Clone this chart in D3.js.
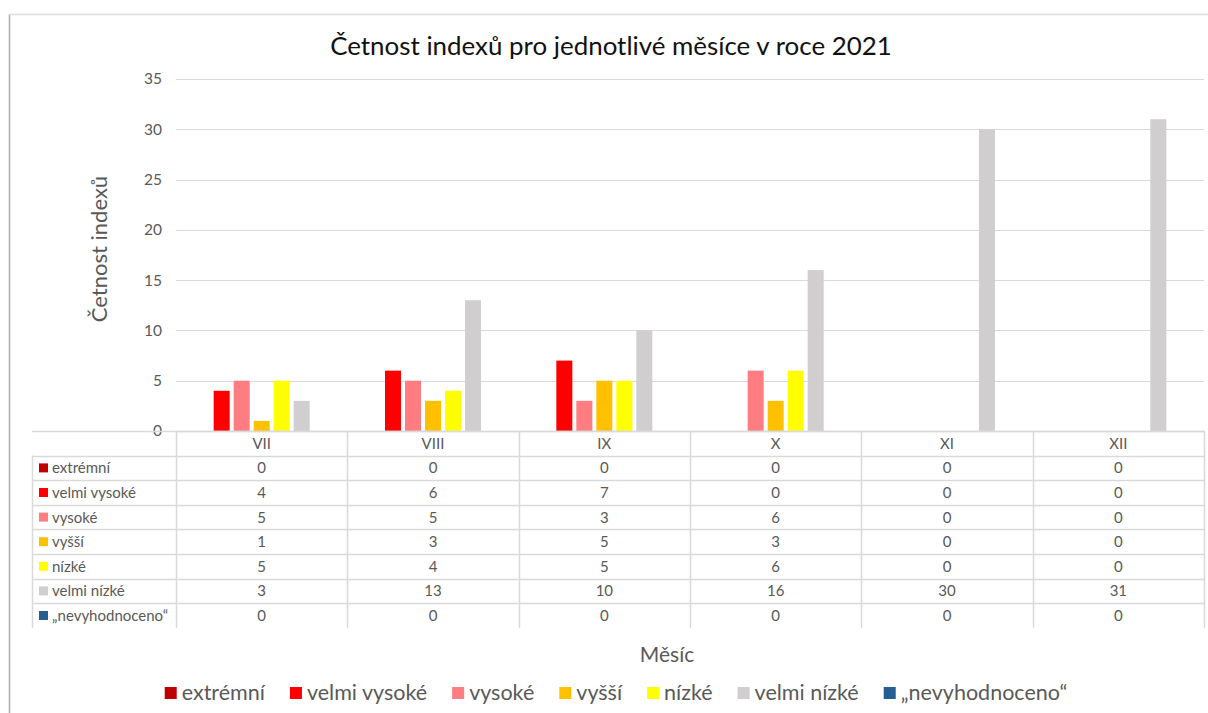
<!DOCTYPE html>
<html>
<head>
<meta charset="utf-8">
<script src="https://cdn.jsdelivr.net/npm/d3@7"></script>
<style>
  html, body { margin: 0; padding: 0; background: #fff; }
  svg { display: block; font-family: Lato, "Open Sans", sans-serif; }
</style>
</head>
<body>
<svg id="chart" width="1208" height="713"></svg>
<script>
// Months (Roman numerals) and index categories
const months = ["VII", "VIII", "IX", "X", "XI", "XII"];
const seriesNames = ["extrémní", "velmi vysoké", "vysoké", "vyšší", "nízké", "velmi nízké", "„nevyhodnoceno“"];
const seriesColors = ["#C00000", "#FF0000", "#FF7C80", "#FFC000", "#FFFF00", "#D0CECE", "#255E91"];

// Counts per category and month
const extremni      = [0, 0, 0, 0, 0, 0];
const velmiVysoke   = [4, 6, 7, 0, 0, 0];
const vysoke        = [5, 5, 3, 6, 0, 0];
const vyssi         = [1, 3, 5, 3, 0, 0];
const nizke         = [5, 4, 5, 6, 0, 0];
const velmiNizke    = [3, 13, 10, 16, 30, 31];
const nevyhodnoceno = [0, 0, 0, 0, 0, 0];

const yTicks = [0, 5, 10, 15, 20, 25, 30, 35];

const titleText = "Četnost indexů pro jednotlivé měsíce v roce 2021";
const yTitle = "Četnost indexů";
const xTitle = "Měsíc";

const seriesValues = [extremni, velmiVysoke, vysoke, vyssi, nizke, velmiNizke, nevyhodnoceno];
const series = seriesNames.map((name, i) => ({ name, color: seriesColors[i], values: seriesValues[i] }));

const svg = d3.select("#chart");
const textColor = "#595959";
const gridColor = "#D9D9D9";

// Chart frame
svg.append("line").attr("x1", 9.5).attr("x2", 9.5).attr("y1", 14).attr("y2", 713)
  .attr("stroke", "#ABABAB").attr("stroke-width", 1.5);
svg.append("line").attr("x1", 9).attr("x2", 1208).attr("y1", 14.5).attr("y2", 14.5)
  .attr("stroke", "#DCDCDC").attr("stroke-width", 1.5);

// Plot area
const plot = { left: 176, right: 1204, top: 79, bottom: 431 };

const x = d3.scaleBand().domain(months).range([plot.left, plot.right]).padding(0);
const y = d3.scaleLinear().domain([0, 35]).range([plot.bottom, plot.top]);
const xInner = d3.scaleBand().domain(seriesNames).range([0, x.bandwidth()])
  .paddingInner(0.2).paddingOuter(0.883);

// Title, fitted to its width
const title = svg.append("text")
  .attr("x", 611).attr("y", 55)
  .attr("text-anchor", "middle")
  .attr("fill", "#111")
  .style("font-size", "24px")
  .text(titleText);
(function fit(sel, target) {
  const w = sel.node().getComputedTextLength();
  const fs = parseFloat(sel.style("font-size"));
  sel.style("font-size", (fs * target / w).toFixed(2) + "px");
})(title, 562);

// Gridlines
svg.append("g").selectAll("line").data(yTicks.filter(t => t > 0)).join("line")
  .attr("x1", plot.left).attr("x2", plot.right)
  .attr("y1", d => Math.round(y(d)) + 0.5).attr("y2", d => Math.round(y(d)) + 0.5)
  .attr("stroke", gridColor).attr("stroke-width", 1.2);

// Y axis labels
const yAxis = svg.append("g")
  .attr("transform", `translate(${plot.left - 4},0)`)
  .call(d3.axisLeft(y).tickValues(yTicks).tickSize(0).tickPadding(10));
yAxis.select(".domain").remove();
yAxis.selectAll("text").attr("fill", textColor).style("font-size", "15.5px")
  .style("font-family", "Lato, 'Open Sans', sans-serif");

// Y title
svg.append("text")
  .attr("transform", `translate(107,249) rotate(-90)`)
  .attr("text-anchor", "middle")
  .attr("fill", textColor)
  .style("font-size", "22px")
  .text(yTitle);

// Bars
const groups = svg.append("g").selectAll("g").data(months).join("g")
  .attr("transform", m => `translate(${x(m)},0)`);
groups.selectAll("rect")
  .data((m, mi) => series.map(s => ({ name: s.name, color: s.color, v: s.values[mi] })))
  .join("rect")
  .attr("x", d => xInner(d.name))
  .attr("width", xInner.bandwidth())
  .attr("y", d => y(d.v))
  .attr("height", d => y(0) - y(d.v))
  .attr("fill", d => d.color);

// Data table below the plot
const rowH = 24.6;
const headerTop = plot.bottom;
const tableLeft = 32;
const rowTop = i => headerTop + rowH * (i + 1);
const tableBottom = rowTop(series.length);
const tableFont = "15px";

const table = svg.append("g");
// horizontal lines
table.append("line").attr("x1", plot.left).attr("x2", plot.right)
  .attr("y1", headerTop + 0.5).attr("y2", headerTop + 0.5)
  .attr("stroke", gridColor).attr("stroke-width", 1.5);
table.selectAll("line.h").data(d3.range(series.length + 1)).join("line")
  .attr("class", "h")
  .attr("x1", tableLeft).attr("x2", plot.right)
  .attr("y1", i => Math.round(rowTop(i - 1)) + 0.5)
  .attr("y2", i => Math.round(rowTop(i - 1)) + 0.5)
  .attr("stroke", gridColor).attr("stroke-width", 1.5);
// vertical lines at column boundaries
const colEdges = months.map(m => x(m)).concat([plot.right]);
table.selectAll("line.v").data(colEdges).join("line")
  .attr("class", "v")
  .attr("x1", d => Math.round(d) + 0.5).attr("x2", d => Math.round(d) + 0.5)
  .attr("y1", headerTop).attr("y2", tableBottom)
  .attr("stroke", gridColor).attr("stroke-width", 1.5);
table.append("line")
  .attr("x1", tableLeft + 0.5).attr("x2", tableLeft + 0.5)
  .attr("y1", rowTop(0)).attr("y2", tableBottom)
  .attr("stroke", gridColor).attr("stroke-width", 1.5);

// header month labels
table.selectAll("text.m").data(months).join("text")
  .attr("class", "m")
  .attr("x", m => x(m) + x.bandwidth() / 2)
  .attr("y", headerTop + rowH / 2)
  .attr("dy", "0.36em")
  .attr("text-anchor", "middle")
  .attr("fill", textColor)
  .style("font-size", tableFont)
  .text(m => m);

// row labels with keys
const rows = table.selectAll("g.row").data(series).join("g")
  .attr("class", "row")
  .attr("transform", (s, i) => `translate(0,${rowTop(i) + rowH / 2})`);
rows.append("rect")
  .attr("x", 39).attr("y", -4.5).attr("width", 9).attr("height", 9)
  .attr("fill", s => s.color);
rows.append("text")
  .attr("x", 52).attr("dy", "0.36em")
  .attr("fill", textColor).style("font-size", tableFont)
  .text(s => s.name);
rows.selectAll("text.val").data(s => s.values.map((v, i) => ({ v, m: months[i] }))).join("text")
  .attr("class", "val")
  .attr("x", d => x(d.m) + x.bandwidth() / 2)
  .attr("dy", "0.36em")
  .attr("text-anchor", "middle")
  .attr("fill", textColor).style("font-size", tableFont)
  .text(d => d.v);

// X title
svg.append("text")
  .attr("x", 667).attr("y", 662)
  .attr("text-anchor", "middle")
  .attr("fill", textColor)
  .style("font-size", "21px")
  .text(xTitle);

// Legend, laid out from measured label widths and centred
const legend = svg.append("g");
const items = legend.selectAll("g").data(series).join("g");
items.append("rect").attr("width", 12).attr("height", 12).attr("y", -13)
  .attr("fill", s => s.color);
items.append("text").attr("x", 17).attr("y", 0)
  .attr("fill", textColor).style("font-size", "21.5px")
  .text(s => s.name);
const gap = 25;
let cursor = 0;
const offsets = [];
items.each(function () {
  offsets.push(cursor);
  const w = 17 + d3.select(this).select("text").node().getComputedTextLength();
  cursor += w + gap;
});
const totalW = cursor - gap;
const legendCenter = 616;
items.attr("transform", (s, i) => `translate(${legendCenter - totalW / 2 + offsets[i]},700)`);
</script>
</body>
</html>
